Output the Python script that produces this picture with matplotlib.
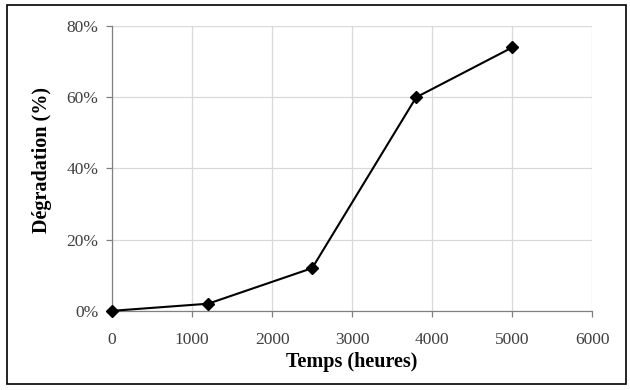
import matplotlib
matplotlib.use("Agg")
import matplotlib.pyplot as plt
from matplotlib.patches import Rectangle
from matplotlib.ticker import FuncFormatter

# data
temps = [0, 1200, 2500, 3800, 5000]
degradation = [0, 2, 12, 60, 74]
x_ticks = [0, 1000, 2000, 3000, 4000, 5000, 6000]
y_ticks = [0, 20, 40, 60, 80]

plt.rcParams['font.family'] = ['Liberation Serif', 'DejaVu Serif']

fig = plt.figure(figsize=(6.3, 3.9), dpi=100)
ax = fig.add_axes([0.178, 0.203, 0.762, 0.730])

ax.plot(temps, degradation, color='black', linewidth=1.5, marker='D',
        markersize=6, markerfacecolor='black', zorder=3, clip_on=False)

ax.set_xlim(0, 6000)
ax.set_ylim(0, 80)
ax.set_xticks(x_ticks)
ax.set_yticks(y_ticks)
ax.yaxis.set_major_formatter(FuncFormatter(lambda v, p: f"{int(v)}%"))
ax.grid(True, color='#d9d9d9', linewidth=0.9)
ax.set_axisbelow(True)

for s in ['top', 'right']:
    ax.spines[s].set_visible(False)
for s in ['left', 'bottom']:
    ax.spines[s].set_color('#808080')
    ax.spines[s].set_linewidth(0.9)
ax.tick_params(colors='#808080', length=4, width=0.9, labelsize=12.5, labelcolor='#404040')
ax.tick_params(axis='x', pad=11)
ax.tick_params(axis='y', pad=6)

ax.set_xlabel('Temps (heures)', fontsize=14.5, fontweight='bold', labelpad=3)
ax.set_ylabel('Dégradation (%)', fontsize=14.5, fontweight='bold')
ax.yaxis.set_label_coords(-0.125, 0.53)

fig.patches.append(Rectangle((0.011, 0.016), 0.983, 0.971, transform=fig.transFigure,
                             fill=False, edgecolor='black', linewidth=1.2))

fig.savefig('out.png', dpi=100)
